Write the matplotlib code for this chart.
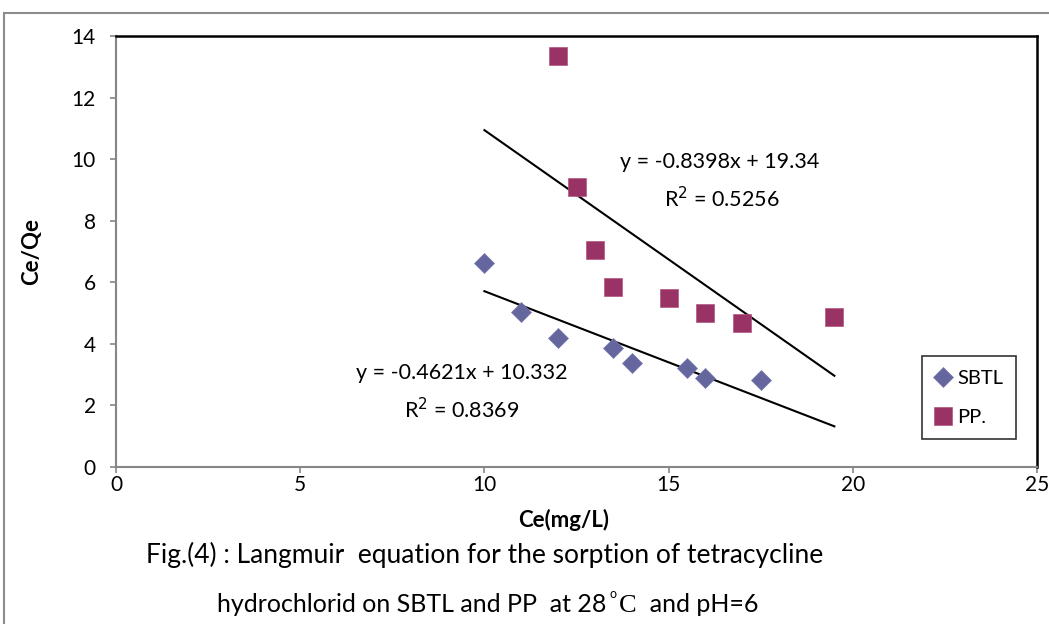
import matplotlib
matplotlib.use("Agg")
import matplotlib.pyplot as plt
import numpy as np
from matplotlib.patches import Rectangle

plt.rcParams['font.family'] = ['Lato', 'DejaVu Sans']

# data
sbtl_x = [10, 11, 12, 13.5, 14, 15.5, 16, 17.5]
sbtl_y = [6.63, 5.03, 4.19, 3.86, 3.38, 3.22, 2.89, 2.83]
pp_x = [12, 12.5, 13, 13.5, 15, 16, 17, 19.5]
pp_y = [13.35, 9.09, 7.05, 5.85, 5.49, 5.0, 4.68, 4.87]

# trendline coefficients as printed on the chart
sbtl_fit = (-0.4621, 10.332, 0.8369)
pp_fit = (-0.8398, 19.34, 0.5256)
trend_x = [10, 19.5]

xticks = [0, 5, 10, 15, 20, 25]
yticks = [0, 2, 4, 6, 8, 10, 12, 14]

fig = plt.figure(figsize=(10.49, 6.24), dpi=100)
ax = fig.add_axes([116/1049, 1-467/624, 921/1049, 431/624])

# outer chart frame
fig.patches.append(Rectangle((4/1049, -0.1), 1.1, 1-13/624+0.1, transform=fig.transFigure,
                             fill=False, edgecolor='#8c8c8c', linewidth=1.5, clip_on=False))

ax.plot(sbtl_x, sbtl_y, linestyle='none', marker='D', markersize=10, color='#66669e',
        markeredgecolor='#7a7ab0', markeredgewidth=0.5, label='SBTL', zorder=3)
ax.plot(pp_x, pp_y, linestyle='none', marker='s', markersize=13, color='#993366',
        markeredgecolor='#b0557f', markeredgewidth=0.5, label='PP.', zorder=3)

tx = np.array(trend_x)
ax.plot(tx, sbtl_fit[0]*tx + sbtl_fit[1], color='black', linewidth=1.5, zorder=2)
ax.plot(tx, pp_fit[0]*tx + pp_fit[1], color='black', linewidth=1.5, zorder=2)

eq_size = 15.5
ax.annotate('y = %.4fx + %.3f' % (sbtl_fit[0], sbtl_fit[1]), xy=(462, 624-373), xycoords='figure pixels',
            ha='center', va='center', fontsize=eq_size)
ax.annotate('R$^2$ = %.4f' % sbtl_fit[2], xy=(462, 624-410), xycoords='figure pixels',
            ha='center', va='center', fontsize=eq_size)
ax.annotate('y = %.4fx + %.2f' % (pp_fit[0], pp_fit[1]), xy=(720, 624-162), xycoords='figure pixels',
            ha='center', va='center', fontsize=eq_size)
ax.annotate('R$^2$ = %.4f' % pp_fit[2], xy=(722, 624-199), xycoords='figure pixels',
            ha='center', va='center', fontsize=eq_size)

ax.set_xlim(0, 25)
ax.set_ylim(0, 14)
ax.set_xticks(xticks)
ax.set_yticks(yticks)
ax.tick_params(direction='out', length=4.5, width=1.2, color='#868686', labelsize=15)
ax.tick_params(axis='x', pad=1)
ax.tick_params(axis='y', pad=10)

for s in ['left', 'bottom']:
    ax.spines[s].set_color('#868686')
    ax.spines[s].set_linewidth(1.5)
for s in ['top', 'right']:
    ax.spines[s].set_color('black')
    ax.spines[s].set_linewidth(1.8)

ax.set_xlabel('Ce(mg/L)', fontsize=16, fontweight='bold')
ax.xaxis.set_label_coords((564-116)/921, (467-509)/431)
ax.set_ylabel('Ce/Qe', fontsize=16, fontweight='bold')
ax.yaxis.set_label_coords((42-116)/921, 0.5)

leg = ax.legend(loc='lower left', bbox_to_anchor=(0.875, 0.065), fontsize=14.5, frameon=True,
                fancybox=False, edgecolor='black', handlelength=0.8, handletextpad=0.3,
                labelspacing=1.1, borderpad=0.65, borderaxespad=0)
leg.get_frame().set_linewidth(1.2)

# caption
fig.text(485/1049, 1-555/624, 'Fig.(4) : Langmuir  equation for the sorption of tetracycline',
         ha='center', va='center', fontsize=19)

fig.canvas.draw()
renderer = fig.canvas.get_renderer()
base_y = 1 - 612/624
pieces = [('hydrochlorid on SBTL and PP  at 28', 18, 'Lato', 0),
          ('o', 9, 'Lato', 14/624),
          ('C', 19, 'Liberation Serif', 0),
          ('  and pH=6', 18, 'Lato', 0)]
cur_x = 217
for txt, size, fam, dy in pieces:
    t = fig.text(cur_x/1049, base_y + dy, txt, ha='left', va='baseline', fontsize=size,
                 family=[fam, 'DejaVu Sans'])
    bb = t.get_window_extent(renderer)
    cur_x = bb.x1 + (3 if txt in ('hydrochlorid on SBTL and PP  at 28', 'o') else 0)

fig.savefig('out.png', dpi=100)
